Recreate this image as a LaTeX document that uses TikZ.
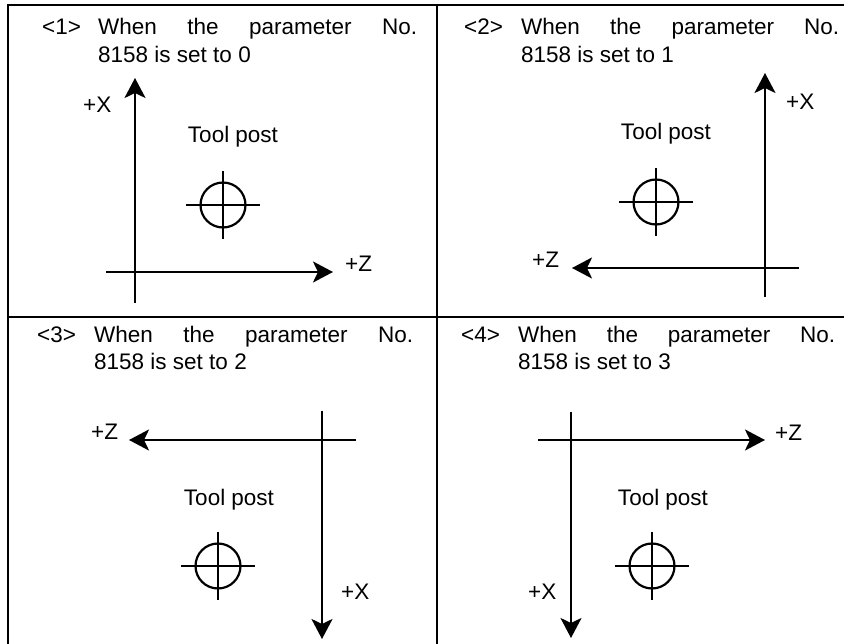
\documentclass[tikz,border=0pt]{standalone}
\usepackage{fontspec}
\setmainfont{Liberation Sans}
\usetikzlibrary{arrows.meta}
\tikzset{
  frameline/.style={line width=2.2pt, line cap=rect},
  axisarrow/.style={line width=2.2pt, -{Stealth[length=20pt,width=21pt,inset=5pt]}},
  txt/.style={inner sep=0pt, anchor=base west},
  tptxt/.style={inner sep=0pt, anchor=base},
  xh/.style={draw, circle, line width=2.2pt, minimum size=45pt, inner sep=0pt},
  xharm/.style={line width=2.2pt}
}
\newcommand{\crosshair}[2]{%
  \node[xh] (#1) at #2 {};
  \draw[xharm] ([xshift=-37pt]#1.center) -- ([xshift=37pt]#1.center);
  \draw[xharm] ([yshift=34pt]#1.center) -- ([yshift=-34pt]#1.center);
}
\begin{document}
\begin{tikzpicture}[x=1pt,y=-1pt,font=\fontsize{22.5}{28}\selectfont]
\useasboundingbox (0,0) rectangle (844,644);
% frame
\coordinate (tl) at (8,5);
\coordinate (tr) at (844,5);
\coordinate (bl) at (8,644);
\coordinate (mt) at (437,5);
\coordinate (mb) at (437,644);
\coordinate (ml) at (8,317);
\coordinate (mr) at (844,317);
\draw[frameline] (tr) -- (tl) -- (bl);
\draw[frameline] (mt) -- (mb);
\draw[frameline] (ml) -- (mr);

% ---------- panel 1 ----------
\node[txt] (n1) at (42,35) {<1>};
\node[txt] (h1) at (98,35) {\makebox[319pt][s]{When the parameter No.}};
\node[txt] (s1) at (98,63) {8158 is set to 0};
\coordinate (p1vs) at (135,303);
\coordinate (p1ve) at (135,78);
\coordinate (p1hs) at (106,272);
\coordinate (p1he) at (333,272);
\draw[axisarrow] (p1vs) -- (p1ve);
\draw[axisarrow] (p1hs) -- (p1he);
\node[txt] (x1) at (83,113) {+X};
\node[txt] (z1) at (345,272) {+Z};
\node[tptxt] (t1) at (233,143) {Tool post};
\crosshair{c1}{(223,205)}

% ---------- panel 2 ----------
\node[txt] (n2) at (464,35) {<2>};
\node[txt] (h2) at (521,35) {\makebox[318pt][s]{When the parameter No.}};
\node[txt] (s2) at (521,63) {8158 is set to 1};
\coordinate (p2vs) at (765,297);
\coordinate (p2ve) at (765,73);
\coordinate (p2hs) at (799,268);
\coordinate (p2he) at (572,268);
\draw[axisarrow] (p2vs) -- (p2ve);
\draw[axisarrow] (p2hs) -- (p2he);
\node[txt] (x2) at (786,110) {+X};
\node[txt] (z2) at (532,268) {+Z};
\node[tptxt] (t2) at (666,140) {Tool post};
\crosshair{c2}{(656,202)}

% ---------- panel 3 ----------
\node[txt] (n3) at (37,343) {<3>};
\node[txt] (h3) at (94,343) {\makebox[319pt][s]{When the parameter No.}};
\node[txt] (s3) at (94,370) {8158 is set to 2};
\coordinate (p3vs) at (322,411);
\coordinate (p3ve) at (322,639);
\coordinate (p3hs) at (356,440);
\coordinate (p3he) at (129,440);
\draw[axisarrow] (p3vs) -- (p3ve);
\draw[axisarrow] (p3hs) -- (p3he);
\node[txt] (z3) at (91,439) {+Z};
\node[txt] (x3) at (341,599) {+X};
\node[tptxt] (t3) at (229,505) {Tool post};
\crosshair{c3}{(218,566)}

% ---------- panel 4 ----------
\node[txt] (n4) at (461,343) {<4>};
\node[txt] (h4) at (518,343) {\makebox[317pt][s]{When the parameter No.}};
\node[txt] (s4) at (518,370) {8158 is set to 3};
\coordinate (p4vs) at (571,412);
\coordinate (p4ve) at (571,638);
\coordinate (p4hs) at (538,440);
\coordinate (p4he) at (765,440);
\draw[axisarrow] (p4vs) -- (p4ve);
\draw[axisarrow] (p4hs) -- (p4he);
\node[txt] (z4) at (775,440) {+Z};
\node[txt] (x4) at (528,599) {+X};
\node[tptxt] (t4) at (663,505) {Tool post};
\crosshair{c4}{(652,566)}
\end{tikzpicture}
\end{document}
